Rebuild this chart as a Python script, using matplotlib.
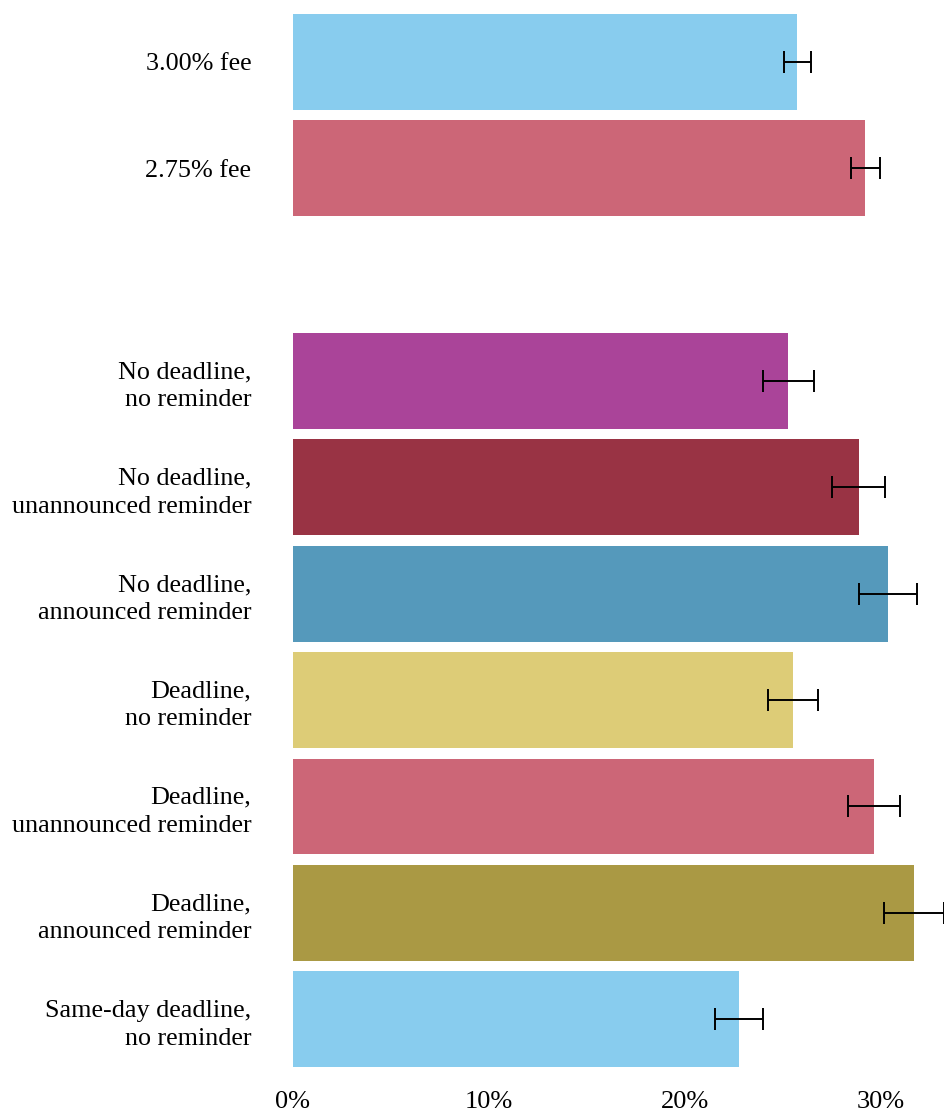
import matplotlib
matplotlib.use("Agg")
import matplotlib.pyplot as plt
from matplotlib.ticker import PercentFormatter

plt.rcParams["font.family"] = ["Liberation Serif", "DejaVu Serif"]

# Treatment groups (top to bottom); the fee comparison is separated by an empty slot
labels = [
    "3.00% fee",
    "2.75% fee",
    "No deadline,\nno reminder",
    "No deadline,\nunannounced reminder",
    "No deadline,\nannounced reminder",
    "Deadline,\nno reminder",
    "Deadline,\nunannounced reminder",
    "Deadline,\nannounced reminder",
    "Same-day deadline,\nno reminder",
]
positions = [0, 1, 3, 4, 5, 6, 7, 8, 9]
rates = [25.75, 29.22, 25.28, 28.88, 30.36, 25.51, 29.64, 31.68, 22.76]
errors = [0.71, 0.72, 1.30, 1.35, 1.48, 1.28, 1.33, 1.53, 1.22]
colors = ["#88CCEE", "#CC6677", "#AA4499", "#993344", "#5599BB",
          "#DDCC77", "#CC6677", "#AA9944", "#88CCEE"]

fig = plt.figure(figsize=(9.44, 11.11), dpi=100)
ax = fig.add_axes([293 / 944, 44 / 1111, 651 / 944, 1053 / 1111])

ax.barh(positions, rates, height=0.9, color=colors)
ax.errorbar(rates, positions, xerr=errors, fmt="none", ecolor="black",
            elinewidth=1.4, capsize=8, capthick=1.4, clip_on=False)

ax.set_xlim(0, 651 / 19.59)
ax.set_ylim(9.45, -0.45)
ax.set_yticks(positions)
ax.set_yticklabels(labels, fontsize=18.8, linespacing=1.35)
ax.set_xticks([0, 10, 20, 30])
ax.xaxis.set_major_formatter(PercentFormatter(decimals=0))
ax.tick_params(axis="x", length=0, pad=17, labelsize=19)
ax.tick_params(axis="y", length=0, pad=30)
for s in ax.spines.values():
    s.set_visible(False)

fig.savefig("out.png", dpi=100)
